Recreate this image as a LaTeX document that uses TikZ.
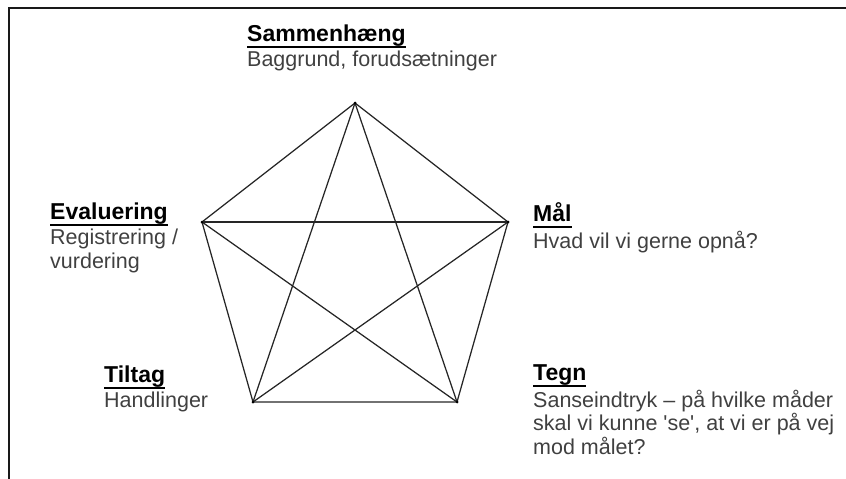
\documentclass[tikz,border=0pt]{standalone}
\usepackage{fontspec}
\setmainfont{Liberation Sans}[Ligatures=TeXOff]
\newcommand\myul[1]{\setbox0\hbox{\fontsize{23pt}{24pt}\selectfont\bfseries #1}\rlap{\rule[-6.8pt]{\wd0}{2pt}}\box0}
\begin{document}
\begin{tikzpicture}[x=1pt,y=-1pt,
  edge/.style={line width=1.25pt,draw=black!85},
  vdot/.style={circle,fill=black,inner sep=0pt,minimum size=3pt},
  lbl/.style={anchor=base west,align=left,inner sep=0pt,text=black!75,
    font=\fontsize{21.5pt}{23.5pt}\selectfont},
  frame/.style={line width=2.4pt,draw=black!90}]
\useasboundingbox (0,0) rectangle (846,479);
% frame
\coordinate (ftr) at (846,8);
\coordinate (ftl) at (9,8);
\coordinate (fbl) at (9,479);
\draw[frame] (ftr) -- (ftl) -- (fbl);
% vertices
\coordinate (T) at (355,103);
\coordinate (L) at (202,222);
\coordinate (R) at (508,222);
\coordinate (BL) at (253,402);
\coordinate (BR) at (457,402);
\draw[edge] (T) -- (R) -- (BR) -- (BL) -- (L) -- cycle;
\draw[edge] (T) -- (BL);
\draw[edge] (T) -- (BR);
\draw[edge] (L) -- (R);
\draw[edge] (L) -- (BR);
\draw[edge] (R) -- (BL);
\foreach \v in {T,L,R,BL,BR} \node[vdot] at (\v) {};
% labels (anchor = baseline of last line)
\node[lbl] (sam) at (247,66) {\textcolor{black}{\myul{Sammenhæng}}\\[1.5pt]Baggrund, forudsætninger};
\node[lbl] (eva) at (50,268) {\textcolor{black}{\myul{Evaluering}}\\[1.5pt]Registrering /\\vurdering};
\node[lbl] (maal) at (533,248) {\textcolor{black}{\myul{Mål}}\\[1.5pt]Hvad vil vi gerne opnå?};
\node[lbl] (til) at (104,407) {\textcolor{black}{\myul{Tiltag}}\\[1.5pt]Handlinger};
\node[lbl] (tegn) at (533,454) {\textcolor{black}{\myul{Tegn}}\\[1.5pt]Sanseindtryk – på hvilke måder\\skal vi kunne 'se', at vi er på vej\\mod målet?};
\end{tikzpicture}
\end{document}
